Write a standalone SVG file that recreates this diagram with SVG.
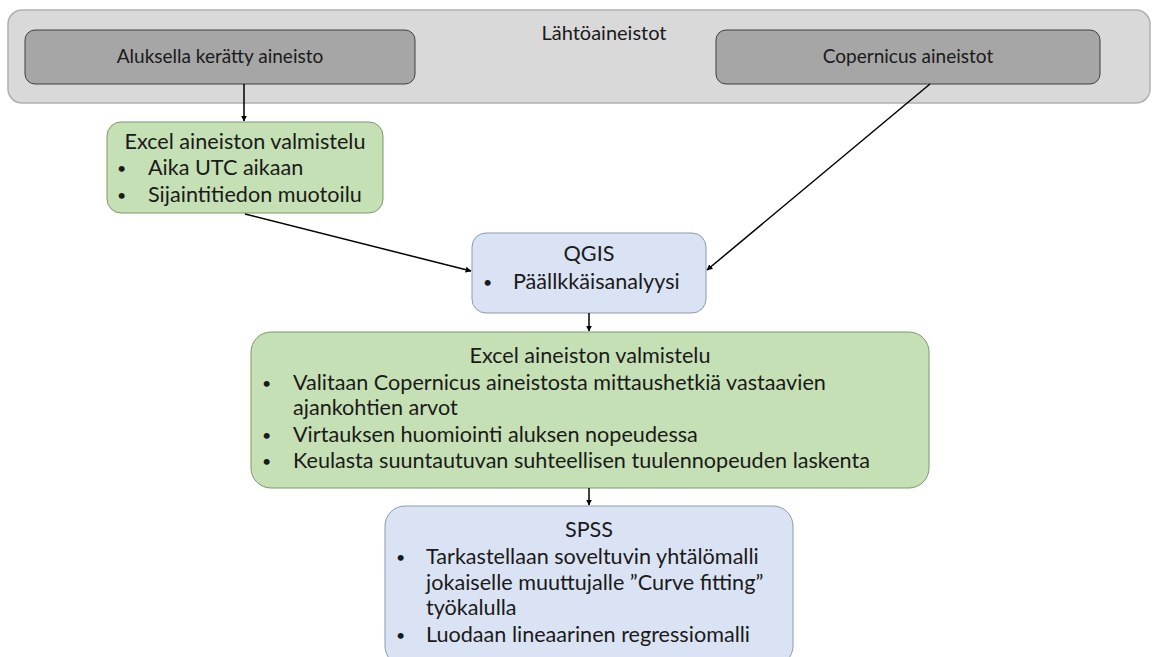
<svg xmlns="http://www.w3.org/2000/svg" width="1158" height="657" viewBox="0 0 1158 657">
<style>
text{font-family:Lato,"Liberation Sans",sans-serif;font-size:21.6px;fill:#1a1a1a}
.c{text-anchor:middle}
.top{font-size:19px}
.b{font-size:16px}
.grp{fill:#d9d9d9;stroke:#b0b0b0;stroke-width:1.5}
.dark{fill:#a6a6a6;stroke:#3f3f3f;stroke-width:1}
.green{fill:#c5e0b4;stroke:#7a9a6a;stroke-width:1}
.blue{fill:#dae3f3;stroke:#8a9ab0;stroke-width:1}
.conn line{stroke:#000;stroke-width:1.5;marker-end:url(#ah)}
</style>
<defs>
<marker id="ah" viewBox="0 0 10 10" refX="9" refY="5" markerWidth="6" markerHeight="6" orient="auto" markerUnits="userSpaceOnUse">
<path d="M0,0 L10,5 L0,10 Z" fill="#000"/>
</marker>
</defs>
<rect width="1158" height="657" fill="#fff"/>
<g id="lahtoaineistot">
<rect class="grp" x="8" y="10" width="1142" height="93" rx="14"/>
<text class="c top" x="604" y="40" style="font-size:20px">Lähtöaineistot</text>
</g>
<g id="aluksella">
<rect class="dark" x="25" y="30" width="390" height="54" rx="10"/>
<text class="c top" x="220" y="63">Aluksella kerätty aineisto</text>
</g>
<g id="copernicus">
<rect class="dark" x="716" y="30" width="384" height="54" rx="10"/>
<text class="c top" x="908" y="63">Copernicus aineistot</text>
</g>
<g id="excel1">
<rect class="green" x="107" y="122" width="276" height="91" rx="14"/>
<text class="c" x="245" y="149">Excel aineiston valmistelu</text>
<text class="b" x="117" y="174">•</text><text x="148" y="175">Aika UTC aikaan</text>
<text class="b" x="117" y="201">•</text><text x="148" y="202">Sijaintitiedon muotoilu</text>
</g>
<g id="qgis">
<rect class="blue" x="472" y="233" width="234" height="80" rx="14"/>
<text class="c" x="589" y="261">QGIS</text>
<text class="b" x="483" y="288">•</text><text x="513" y="289">Päällkkäisanalyysi</text>
</g>
<g id="excel2">
<rect class="green" x="251" y="332" width="678" height="156" rx="20"/>
<text class="c" x="590" y="363">Excel aineiston valmistelu</text>
<text class="b" x="262" y="389">•</text><text x="293" y="390">Valitaan Copernicus aineistosta mittaushetkiä vastaavien</text>
<text x="293" y="415">ajankohtien arvot</text>
<text class="b" x="262" y="441">•</text><text x="293" y="442">Virtauksen huomiointi aluksen nopeudessa</text>
<text class="b" x="262" y="467">•</text><text x="293" y="468">Keulasta suuntautuvan suhteellisen tuulennopeuden laskenta</text>
</g>
<g id="spss">
<rect class="blue" x="385" y="506" width="408" height="160" rx="20"/>
<text class="c" x="589" y="537">SPSS</text>
<text class="b" x="396" y="563">•</text><text x="426" y="564">Tarkastellaan soveltuvin yhtälömalli</text>
<text x="426" y="590">jokaiselle muuttujalle ”Curve fitting”</text>
<text x="426" y="615">työkalulla</text>
<text class="b" x="396" y="641">•</text><text x="426" y="642">Luodaan lineaarinen regressiomalli</text>
</g>
<g class="conn" id="connectors">
<line x1="244" y1="84" x2="244" y2="121"/>
<line x1="245" y1="214" x2="471" y2="271"/>
<line x1="930" y1="84" x2="707" y2="270"/>
<line x1="589" y1="313" x2="589" y2="331"/>
<line x1="589" y1="488" x2="589" y2="505"/>
</g>
</svg>
